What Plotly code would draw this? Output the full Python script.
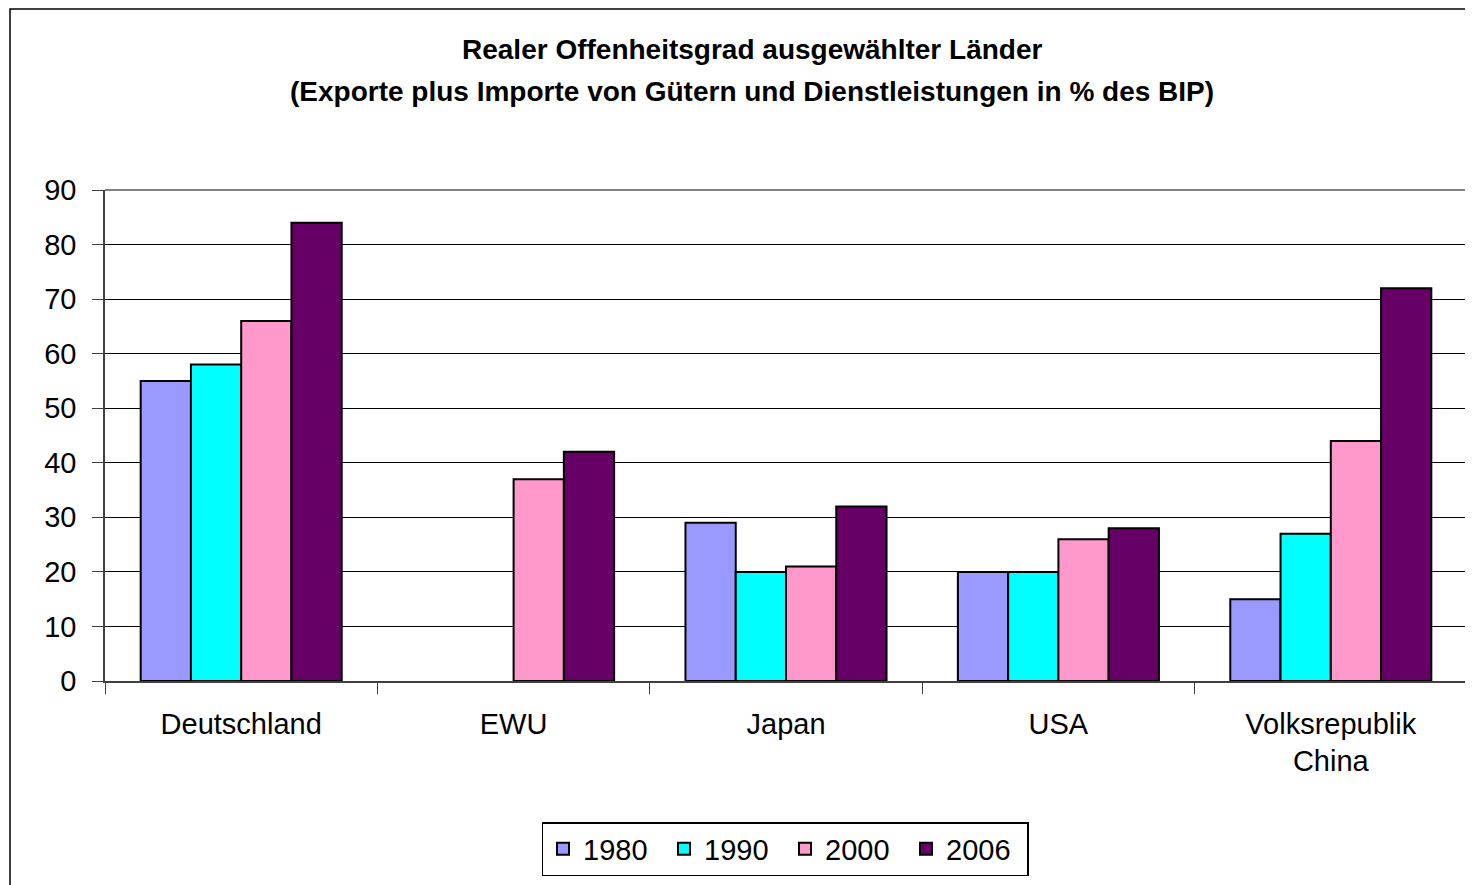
import plotly.graph_objects as go

categories = ["Deutschland", "EWU", "Japan", "USA", "Volksrepublik<br>China"]
years = ["1980", "1990", "2000", "2006"]
v1980 = [55, None, 29, 20, 15]
v1990 = [58, None, 20, 20, 27]
v2000 = [66, 37, 21, 26, 44]
v2006 = [84, 42, 32, 28, 72]
colors = ["#9999FF", "#00FFFF", "#FF99CC", "#660066"]
y_ticks = list(range(0, 100, 10))

series = [v1980, v1990, v2000, v2006]

fig = go.Figure()
for name, vals, col in zip(years, series, colors):
    fig.add_trace(go.Bar(
        x=categories, y=vals, name=name,
        marker=dict(color=col, line=dict(color="black", width=2)),
    ))

# page is offset by 8px body margin
OFF = 8
W, H = 1473 - OFF, 885 - OFF
L, R, T, B = 105 - OFF, 6, 190 - OFF, 204
ph = H - T - B
pw = W - L - R

def py(pix):
    return 1 - (pix - OFF - T) / ph

def px(pix):
    return (pix - OFF - L) / pw

font = "Liberation Sans, Arial, sans-serif"

fig.update_layout(
    width=W, height=H,
    margin=dict(l=L, r=R, t=T, b=B, autoexpand=False),
    paper_bgcolor="white", plot_bgcolor="white",
    barmode="group", bargap=0.262, bargroupgap=0,
    font=dict(family=font, color="black", size=29),
    showlegend=True,
    legend=dict(
        orientation="h", x=px(785), xanchor="center", y=py(822), yanchor="top",
        bordercolor="black", borderwidth=1.5, bgcolor="white",
        font=dict(size=29, family=font), itemwidth=30,
        entrywidth=76, entrywidthmode="pixels",
        traceorder="normal",
    ),
    xaxis=dict(
        type="category", tickson="boundaries", ticks="outside", ticklen=11,
        tickcolor="#404040", showline=True, linecolor="#404040", linewidth=1.5,
        showgrid=False, tickfont=dict(size=29), ticklabelstandoff=16,
    ),
    yaxis=dict(
        range=[0, 90], tickvals=y_ticks, ticks="outside", ticklen=11,
        tickcolor="#404040", showline=True, linecolor="#404040", linewidth=1.5,
        showgrid=True, gridcolor="black", gridwidth=1, zeroline=False,
        tickfont=dict(size=29), ticklabelstandoff=10,
    ),
)

# plot-area border (top and right, grey)
fig.add_shape(type="line", xref="paper", yref="paper", x0=0, x1=1, y0=1, y1=1,
              line=dict(color="#808080", width=2), layer="above")
fig.add_shape(type="line", xref="paper", yref="paper", x0=1, x1=1, y0=0, y1=1,
              line=dict(color="#808080", width=2), layer="above")
# chart-area outer border
fig.add_shape(type="rect", xref="paper", yref="paper",
              x0=px(10), x1=px(1490), y0=py(900), y1=py(9),
              line=dict(color="black", width=1.5), fillcolor="rgba(0,0,0,0)")

title1 = "Realer Offenheitsgrad ausgewählter Länder"
title2 = "(Exporte plus Importe von Gütern und Dienstleistungen in % des BIP)"
for txt, yc in [(title1, 49), (title2, 91)]:
    fig.add_annotation(text="<b>" + txt + "</b>", xref="paper", yref="paper",
                       x=px(752), y=py(yc), xanchor="center", yanchor="middle",
                       showarrow=False, font=dict(size=28, family=font, color="black"))

fig.write_html("out.html")
